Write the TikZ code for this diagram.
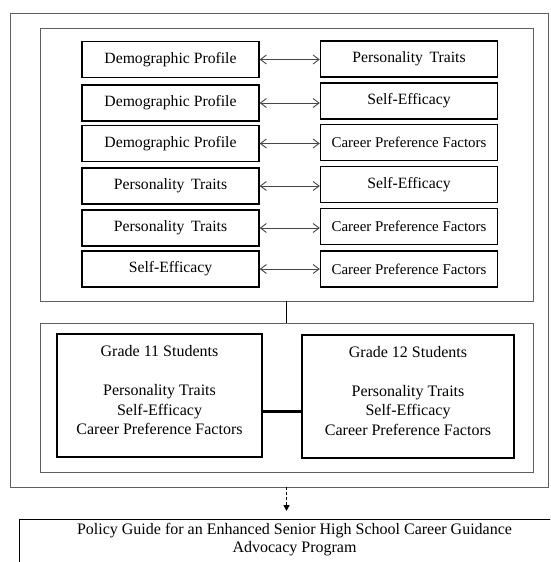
\documentclass[tikz,border=0pt]{standalone}
\usepackage{fontspec}
\setmainfont{Liberation Serif}
\usetikzlibrary{arrows.meta}
\definecolor{framegray}{RGB}{95,95,95}
\definecolor{linkgray}{RGB}{70,70,70}
\begin{document}
\begin{tikzpicture}[x=1pt,y=-1pt,
  frame/.style={draw=framegray, line width=0.9pt, inner sep=0pt},
  pairbox/.style={draw=black, line width=1.4pt, minimum width=177pt, minimum height=36pt, inner sep=0pt, font=\fontsize{15.7}{18}\selectfont},
  cpf/.style={font=\fontsize{14.9}{18}\selectfont},
  link/.style={draw=linkgray, line width=0.9pt, {Straight Barb[length=6pt,width=9pt]}-{Straight Barb[length=6pt,width=9pt]}},
  gradebox/.style={draw=black, line width=1.4pt, minimum height=123pt, inner sep=0pt},
  gradetext/.style={align=center, font=\fontsize{16}{19.5}\selectfont},
  policybox/.style={draw=black, line width=0.9pt, inner sep=0pt}]
\useasboundingbox (0,0) rectangle (550,562);
\clip (0,0) rectangle (550,562);
% frames
\node[frame, minimum width=538pt, minimum height=474pt] (outer) at (279,250) {};
\node[frame, minimum width=493pt, minimum height=273pt] (top) at (286.5,164.5) {};
\node[frame, minimum width=493pt, minimum height=149pt] (bot) at (286.5,397.5) {};
% pair boxes
\node[pairbox] (l1) at (170.5,59.5) {Demographic Profile};
\node[pairbox] (l2) at (170.5,103) {Demographic Profile};
\node[pairbox] (l3) at (170.5,143.5) {Demographic Profile};
\node[pairbox] (l4) at (170.5,186) {Personality\, Traits};
\node[pairbox] (l5) at (170.5,228) {Personality\, Traits};
\node[pairbox] (l6) at (170.5,269) {Self-Efficacy};
\node[pairbox] (r1) at (409,59) {Personality\, Traits};
\node[pairbox] (r2) at (409,101) {Self-Efficacy};
\node[pairbox, cpf] (r3) at (409,142.5) {Career Preference Factors};
\node[pairbox] (r4) at (409,184.5) {Self-Efficacy};
\node[pairbox, cpf] (r5) at (409,226.5) {Career Preference Factors};
\node[pairbox, cpf] (r6) at (409,269) {Career Preference Factors};
\foreach \i in {1,...,6}{
  \draw[link] (l\i.east) -- (l\i.east -| r\i.west);
}
% connector between frames
\draw[black, line width=1.2pt] (top.south) -- (bot.north);
% grade boxes
\node[gradebox, minimum width=205pt] (g11) at (159.5,395.5) {};
\node[gradebox, minimum width=212pt] (g12) at (408,396.5) {};
\node[gradetext, yshift=5pt] (t11) at (g11.center) {Grade 11 Students\\[19.5pt]Personality Traits\\Self-Efficacy\\Career Preference Factors};
\node[gradetext, yshift=5.5pt] (t12) at (g12.center) {Grade 12 Students\\[19.5pt]Personality Traits\\Self-Efficacy\\Career Preference Factors};
\draw[black, line width=3pt] ([yshift=-15.5pt]g11.east) -- ([yshift=-15.5pt]g11.east -| g12.west);
% policy box
\node[policybox, minimum width=560pt, minimum height=70pt, anchor=north west] (policy) at (19,519) {};
\node[align=center, font=\fontsize{16}{18}\selectfont] (ptext) at (294.5,540) {Policy Guide for an Enhanced Senior High School Career Guidance\\Advocacy Program};
\draw[black, line width=1.5pt, dashed, dash pattern=on 3pt off 2pt, -{Triangle[length=6pt,width=6pt]}, shorten >=8pt] (outer.south -| top.south) -- (policy.north -| top.south);
\end{tikzpicture}
\end{document}
